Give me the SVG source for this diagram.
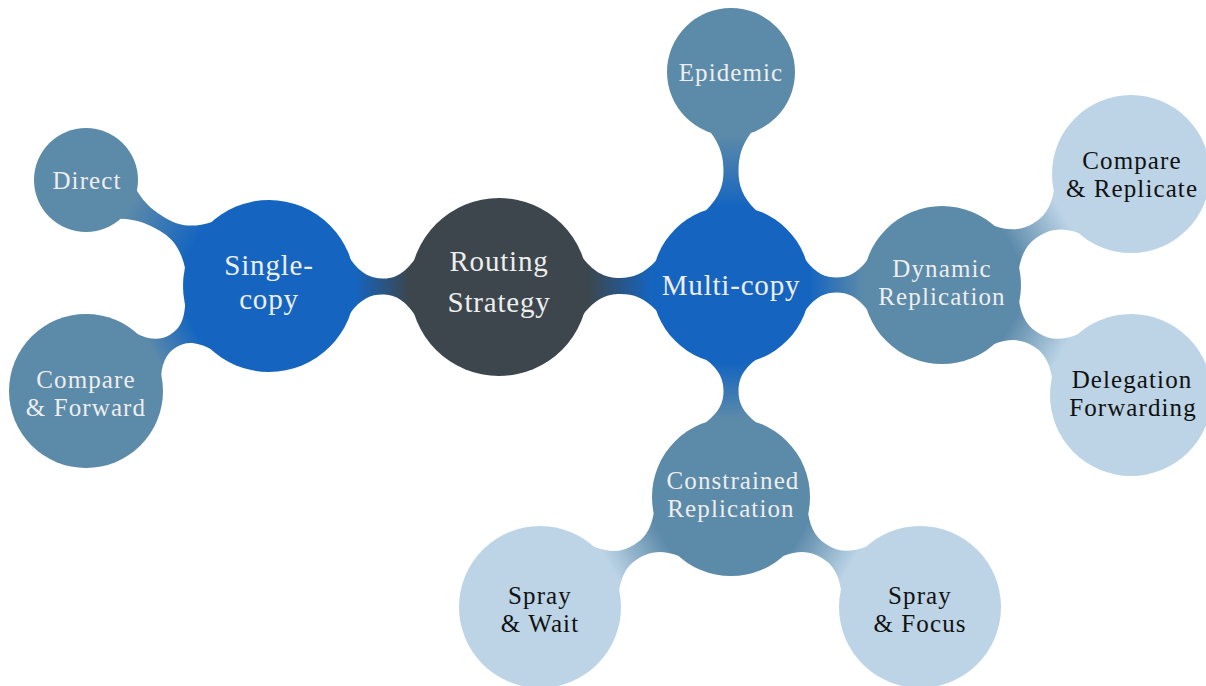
<svg xmlns="http://www.w3.org/2000/svg" width="1206" height="686" viewBox="0 0 1206 686">
<style>
.dark{fill:#3c464c}
.blue{fill:#1565c0}
.steel{fill:#5c8aa9}
.light{fill:#bcd4e6}
text{font-family:"Liberation Serif","Times New Roman",serif;text-anchor:middle}
.tm{font-size:29px;fill:#eeeeee;letter-spacing:0.8px}
.ts{font-size:25px;fill:#eeeeee;letter-spacing:1.1px}
.tl{font-size:25px;fill:#111111;letter-spacing:1.1px}
</style>
<defs>
<linearGradient id="g1" gradientUnits="userSpaceOnUse" x1="89" y1="0" x2="144" y2="0"><stop offset="0" stop-color="#3c464c"/><stop offset="1" stop-color="#1565c0"/></linearGradient>
<linearGradient id="g2" gradientUnits="userSpaceOnUse" x1="89" y1="0" x2="153" y2="0"><stop offset="0" stop-color="#3c464c"/><stop offset="1" stop-color="#1565c0"/></linearGradient>
<linearGradient id="g3" gradientUnits="userSpaceOnUse" x1="86" y1="0" x2="159.5" y2="0"><stop offset="0" stop-color="#1565c0"/><stop offset="1" stop-color="#5c8aa9"/></linearGradient>
<linearGradient id="g4" gradientUnits="userSpaceOnUse" x1="86" y1="0" x2="134" y2="0"><stop offset="0" stop-color="#1565c0"/><stop offset="1" stop-color="#5c8aa9"/></linearGradient>
<linearGradient id="g5" gradientUnits="userSpaceOnUse" x1="79" y1="0" x2="149" y2="0"><stop offset="0" stop-color="#1565c0"/><stop offset="1" stop-color="#5c8aa9"/></linearGradient>
<linearGradient id="g6" gradientUnits="userSpaceOnUse" x1="79" y1="0" x2="133" y2="0"><stop offset="0" stop-color="#1565c0"/><stop offset="1" stop-color="#5c8aa9"/></linearGradient>
<linearGradient id="g7" gradientUnits="userSpaceOnUse" x1="79" y1="0" x2="132" y2="0"><stop offset="0" stop-color="#1565c0"/><stop offset="1" stop-color="#5c8aa9"/></linearGradient>
<linearGradient id="g8" gradientUnits="userSpaceOnUse" x1="79" y1="0" x2="140.2" y2="0"><stop offset="0" stop-color="#5c8aa9"/><stop offset="1" stop-color="#bcd4e6"/></linearGradient>
<linearGradient id="g9" gradientUnits="userSpaceOnUse" x1="79" y1="0" x2="137.7" y2="0"><stop offset="0" stop-color="#5c8aa9"/><stop offset="1" stop-color="#bcd4e6"/></linearGradient>
<linearGradient id="g10" gradientUnits="userSpaceOnUse" x1="79" y1="0" x2="139.4" y2="0"><stop offset="0" stop-color="#5c8aa9"/><stop offset="1" stop-color="#bcd4e6"/></linearGradient>
</defs>
<g id="connectors">
<path transform="translate(499,287) rotate(180.25)" fill="url(#g1)" d="M83.7,-28.5 C95.2,-12.1 105,-8 116.5,-8 C127.9,-8 137.8,-11.9 149.2,-27.5 L149.2,27.5 C137.8,11.9 127.9,8 116.5,8 C105,8 95.2,12.1 83.7,28.5 Z"/>
<path transform="translate(499,287) rotate(-0.49)" fill="url(#g2)" d="M83.7,-28.5 C96.8,-12.1 107.9,-8 121,-8 C133.8,-8 144.9,-11.5 157.7,-25.3 L157.7,25.3 C144.9,11.5 133.8,8 121,8 C107.9,8 96.8,12.1 83.7,28.5 Z"/>
<path transform="translate(269,286) rotate(-149.92)" fill="url(#g3)" d="M80.8,-27.5 C95.5,-11.1 108.1,-7 122.75,-7 C136.7,-7 148.7,-8.9 162.6,-16.6 L162.6,16.6 C148.7,8.9 136.7,7 122.75,7 C108.1,7 95.5,11.1 80.8,27.5 Z"/>
<path transform="translate(269,286) rotate(150.15)" fill="url(#g4)" d="M80.8,-27.5 C91,-11.1 99.8,-7 110,-7 C120,-7 128.6,-10.5 138.6,-24.6 L138.6,24.6 C128.6,10.5 120,7 110,7 C99.8,7 91,11.1 80.8,27.5 Z"/>
<path transform="translate(731,285) rotate(-90)" fill="url(#g5)" d="M74.3,-25.3 C88.2,-11.1 100.1,-7.5 114,-7.5 C127.6,-7.5 139.2,-10.1 152.8,-20.5 L152.8,20.5 C139.2,10.1 127.6,7.5 114,7.5 C100.1,7.5 88.2,11.1 74.3,25.3 Z"/>
<path transform="translate(731,285) rotate(90)" fill="url(#g6)" d="M74.3,-25.3 C85.4,-11.1 94.9,-7.5 106,-7.5 C117.1,-7.5 126.6,-11.1 137.7,-25.3 L137.7,25.3 C126.6,11.1 117.1,7.5 106,7.5 C94.9,7.5 85.4,11.1 74.3,25.3 Z"/>
<path transform="translate(731,285)" fill="url(#g7)" d="M74.3,-25.3 C85.2,-11.1 94.6,-7.5 105.5,-7.5 C116.4,-7.5 125.8,-11.1 136.7,-25.3 L136.7,25.3 C125.8,11.1 116.4,7.5 105.5,7.5 C94.6,7.5 85.2,11.1 74.3,25.3 Z"/>
<path transform="translate(942,285) rotate(-30.43)" fill="url(#g8)" d="M74.3,-25.3 C86.7,-10.7 97.2,-7 109.6,-7 C122,-7 132.5,-10.7 144.9,-25.3 L144.9,25.3 C132.5,10.7 122,7 109.6,7 C97.2,7 86.7,10.7 74.3,25.3 Z"/>
<path transform="translate(942,285) rotate(30.2)" fill="url(#g9)" d="M74.3,-25.3 C86.2,-10.7 96.45,-7 108.35,-7 C120.35,-7 130.6,-10.8 142.6,-25.9 L142.6,25.9 C130.6,10.8 120.35,7 108.35,7 C96.45,7 86.2,10.7 74.3,25.3 Z"/>
<path transform="translate(731,497) rotate(150.06)" fill="url(#g10)" d="M74.3,-25.3 C86.5,-10.7 97,-7 109.2,-7 C121.5,-7 132,-10.8 144.3,-25.9 L144.3,25.9 C132,10.8 121.5,7 109.2,7 C97,7 86.5,10.7 74.3,25.3 Z"/>
<path transform="translate(731,497) rotate(30.2)" fill="url(#g9)" d="M74.3,-25.3 C86.2,-10.7 96.45,-7 108.35,-7 C120.35,-7 130.6,-10.8 142.6,-25.9 L142.6,25.9 C130.6,10.8 120.35,7 108.35,7 C96.45,7 86.2,10.7 74.3,25.3 Z"/>
</g>
<g id="routing"><circle class="dark" cx="499" cy="287" r="89"/><text class="tm" x="499" y="271">Routing</text><text class="tm" x="499" y="312">Strategy</text></g>
<g id="single"><circle class="blue" cx="269" cy="286" r="86"/><text class="tm" x="269" y="275">Single-</text><text class="tm" x="269" y="309">copy</text></g>
<g id="multi"><circle class="blue" cx="731" cy="285" r="79"/><text class="tm" x="731" y="295">Multi-copy</text></g>
<g id="direct"><circle class="steel" cx="86" cy="180" r="52"/><text class="ts" x="87" y="189">Direct</text></g>
<g id="cforward"><circle class="steel" cx="86" cy="391" r="77"/><text class="ts" x="86" y="388">Compare</text><text class="ts" x="86" y="416">&amp; Forward</text></g>
<g id="epidemic"><circle class="steel" cx="731" cy="72" r="64"/><text class="ts" x="731" y="81">Epidemic</text></g>
<g id="dynamic"><circle class="steel" cx="942" cy="285" r="79"/><text class="ts" x="942" y="277">Dynamic</text><text class="ts" x="942" y="305">Replication</text></g>
<g id="constrained"><circle class="steel" cx="731" cy="497" r="79"/><text class="ts" x="733" y="489">Constrained</text><text class="ts" x="731" y="517">Replication</text></g>
<g id="creplicate"><circle class="light" cx="1131" cy="174" r="79"/><text class="tl" x="1132" y="169">Compare</text><text class="tl" x="1132" y="197">&amp; Replicate</text></g>
<g id="delegation"><circle class="light" cx="1131" cy="395" r="81"/><text class="tl" x="1132" y="388">Delegation</text><text class="tl" x="1133" y="416">Forwarding</text></g>
<g id="spraywait"><circle class="light" cx="540" cy="607" r="81"/><text class="tl" x="540" y="604">Spray</text><text class="tl" x="540" y="632">&amp; Wait</text></g>
<g id="sprayfocus"><circle class="light" cx="920" cy="607" r="81"/><text class="tl" x="920" y="604">Spray</text><text class="tl" x="920" y="632">&amp; Focus</text></g>
</svg>
